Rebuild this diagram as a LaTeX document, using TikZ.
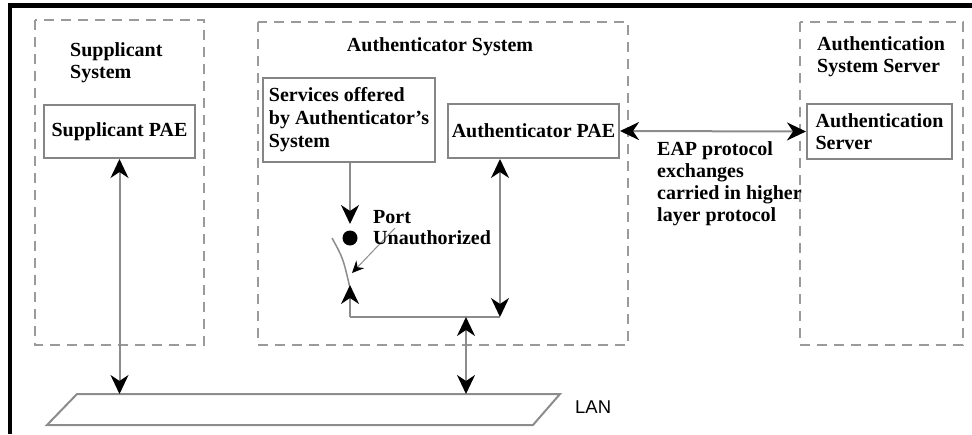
\documentclass[tikz,border=0pt]{standalone}
\usepackage{fontspec}
\setmainfont{Liberation Serif}
\newfontfamily\lansans{Liberation Sans}
\usetikzlibrary{arrows.meta}
\definecolor{dashgray}{HTML}{9A9A9A}
\definecolor{linegray}{HTML}{8C8C8C}
\definecolor{boxgray}{HTML}{858585}
\tikzset{
  atip/.tip={Stealth[length=19pt,width=18pt,inset=6pt,fill=black,color=black]},
  stip/.tip={Stealth[length=12pt,width=11pt,inset=4pt,fill=black,color=black]},
}
\begin{document}
\begin{tikzpicture}[x=1pt,y=-1pt,
  txt/.style={font=\fontsize{20}{22}\selectfont\bfseries, inner sep=0pt, align=left},
  sysbox/.style={draw=dashgray, line width=2.5pt, dash pattern=on 10pt off 7pt},
  pbox/.style={draw=boxgray, line width=2pt, fill=white, inner sep=2pt, align=left,
    font=\fontsize{20}{23}\selectfont\bfseries},
  gl/.style={draw=linegray, line width=2pt},
  frame/.style={draw=black, line width=4.5pt},
]
\useasboundingbox (0,0) rectangle (972,434);
% outer frame
\coordinate (fbl) at (10,434);
\coordinate (ftl) at (10,5.5);
\coordinate (ftr) at (972,5.5);
\draw[frame] (fbl) -- (ftl) -- (ftr);

% system containers
\draw[sysbox] (35,20) rectangle (204,345);
\draw[sysbox] (258,22) rectangle (628,345);
\draw[sysbox] (800,22) rectangle (963,345);

% titles (base anchor = baseline of last line)
\node[txt, anchor=base west] (supsysT) at (70,78) {Supplicant\\System};
\node[txt, anchor=base] (autsysT) at (440,51) {Authenticator System};
\node[txt, anchor=base west] (asrvsysT) at (817,72) {Authentication\\System Server};

% boxes
\node[pbox, minimum width=151pt, minimum height=53pt] (spae) at (119.5,131.5) {Supplicant PAE};
\node[pbox, minimum width=172pt, minimum height=84pt] (svc) at (349,120) {Services offered\\by Authenticator's\\System};
\node[pbox, minimum width=171pt, minimum height=54pt] (apae) at (533.5,131) {Authenticator PAE};
\node[pbox, minimum width=145pt, minimum height=55pt, font=\fontsize{20}{22}\selectfont\bfseries] (asrv) at (879.5,131.5) {Authentication\\Server};

% LAN
\coordinate (lantl) at (77,394);
\coordinate (lantr) at (560,394);
\coordinate (lanbr) at (533,425);
\coordinate (lanbl) at (47,425);
\draw[gl, line join=miter] (lantl) -- (lantr) -- (lanbr) -- (lanbl) -- cycle;
\node[anchor=base west, inner sep=0pt, font=\lansans\fontsize{18.5}{20}\selectfont] (lanT) at (575,413) {LAN};

% EAP
\draw[gl, {atip}-{atip}] (apae.east) -- (asrv.west);
\node[txt, anchor=base west] (eapT) at (657,221) {EAP protocol\\exchanges\\carried in higher\\layer protocol};

% supplicant link
\draw[gl, {atip}-{atip}] (spae.south) -- (spae.south |- lantl);

% port
\coordinate (p1) at (350,224);
\coordinate (p2) at (350,285);
\coordinate (c1) at (350,317);
\coordinate (c2) at (500,317);
\coordinate (c3) at (466,317);
\coordinate (sw1) at (332,238);
\coordinate (sw2) at (350,288);
\coordinate (ptr) at (395,228);
\coordinate (ptrEnd) at (352,273);
\draw[gl, -{atip}] (svc.south -| p1) -- (p1);
\node[circle, fill=black, minimum size=15pt, inner sep=0pt] (dot) at (350,238) {};
\draw[gl, line width=1.5pt] (sw1) .. controls (343,258) .. (sw2);
\draw[gl, -{atip}] (c1) -- (p2);
\draw[gl] (c1) -- (c2);
\draw[gl, {atip}-{atip}] (apae.south -| c2) -- (c2);
\draw[gl, {atip}-{atip}] (c3) -- (c3 |- lantl);
\draw[gl, line width=1pt, -{stip}] (ptr) -- (ptrEnd);
\node[txt, anchor=base west, font=\fontsize{20}{21}\selectfont\bfseries] (portT) at (373,244) {Port\\Unauthorized};
\end{tikzpicture}
\end{document}
